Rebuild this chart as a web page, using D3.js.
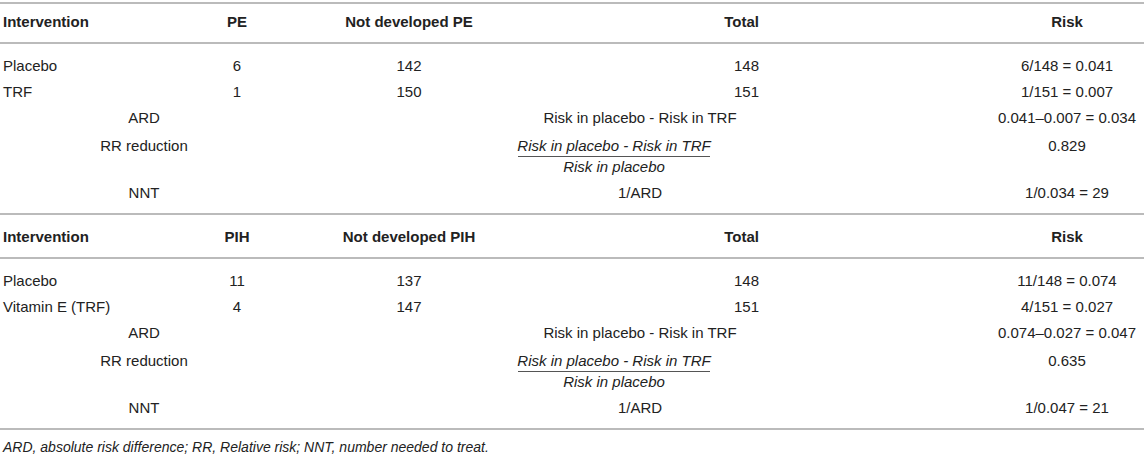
<!DOCTYPE html>
<html>
<head>
<meta charset="utf-8">
<script src="https://cdn.jsdelivr.net/npm/d3@7"></script>
<style>
  body { margin: 0; background: #fff; }
  svg { display: block; font-family: "Liberation Sans", Arial, sans-serif; }
</style>
</head>
<body>
<div id="chart"></div>
<script>
// table content
var headersPE  = ['Intervention', 'PE', 'Not developed PE', 'Total', 'Risk'];
var headersPIH = ['Intervention', 'PIH', 'Not developed PIH', 'Total', 'Risk'];

var groupsPE  = ['Placebo', 'TRF'];
var casesPE   = [6, 1];
var notPE     = [142, 150];
var totalPE   = [148, 151];
var riskPE    = ['6/148 = 0.041', '1/151 = 0.007'];
var derivedPE = ['0.041\u20130.007 = 0.034', '0.829', '1/0.034 = 29'];

var groupsPIH  = ['Placebo', 'Vitamin E (TRF)'];
var casesPIH   = [11, 4];
var notPIH     = [137, 147];
var totalPIH   = [148, 151];
var riskPIH    = ['11/148 = 0.074', '4/151 = 0.027'];
var derivedPIH = ['0.074\u20130.027 = 0.047', '0.635', '1/0.047 = 21'];

var measures  = ['ARD', 'RR reduction', 'NNT'];
var formulas  = ['Risk in placebo - Risk in TRF', null, '1/ARD'];
var fracTop   = 'Risk in placebo - Risk in TRF';
var fracBot   = 'Risk in placebo';

var footnote = 'ARD, absolute risk difference; RR, Relative risk; NNT, number needed to treat.';

var chart_width = 1144
var chart_height = 456

var svg = d3.select('#chart')
    .append('svg')
    .attr('width', chart_width)
    .attr('height', chart_height);

// column positions
var colX = d3.scaleOrdinal()
    .domain(['name', 'measure', 'cases', 'not', 'total', 'formula', 'frac', 'risk'])
    .range([3, 144, 237, 409, 759, 640, 614, 1067]);
var colAnchor = d3.scaleOrdinal()
    .domain(['name', 'measure', 'cases', 'not', 'total', 'formula', 'frac', 'risk'])
    .range(['start', 'middle', 'middle', 'middle', 'end', 'middle', 'middle', 'middle']);

// row centres inside one block (block top = 0)
var rowY = d3.scaleOrdinal()
    .domain(['header', 'rule', 'g0', 'g1', 'm0', 'm1', 'm2', 'end'])
    .range([22, 43, 66, 92, 118, 146, 193, 214]);

var blockTop = d3.scaleOrdinal().domain([0, 1]).range([0, 215]);

var ruleColor = '#bbbbbb';
var textColor = '#222';

function cell(g, col, y, txt, opts) {
    opts = opts || {};
    g.append('text')
        .attr('x', colX(col))
        .attr('y', y + 5)
        .attr('text-anchor', colAnchor(col))
        .attr('font-size', opts.size || 15)
        .attr('font-weight', opts.bold ? 'bold' : null)
        .attr('font-style', opts.italic ? 'italic' : null)
        .attr('fill', textColor)
        .text(txt);
}

function rule(y) {
    svg.append('line')
        .attr('x1', 0).attr('x2', chart_width)
        .attr('y1', y).attr('y2', y)
        .attr('stroke', ruleColor)
        .attr('stroke-width', 2);
}

var blocks = [
    { headers: headersPE, groups: groupsPE, cases: casesPE, not: notPE, total: totalPE, risk: riskPE, derived: derivedPE },
    { headers: headersPIH, groups: groupsPIH, cases: casesPIH, not: notPIH, total: totalPIH, risk: riskPIH, derived: derivedPIH }
];

rule(3);

blocks.forEach(function(b, bi) {
    var t = blockTop(bi);
    var g = svg.append('g');
    var cols = ['name', 'cases', 'not', 'total', 'risk'];

    // header
    b.headers.forEach(function(h, i) {
        cell(g, cols[i], t + rowY('header'), h, { bold: true });
    });
    rule(t + rowY('rule'));

    // group rows
    b.groups.forEach(function(name, i) {
        var y = t + rowY('g' + i);
        cell(g, 'name', y, name);
        cell(g, 'cases', y, b.cases[i]);
        cell(g, 'not', y, b.not[i]);
        cell(g, 'total', y, b.total[i]);
        cell(g, 'risk', y, b.risk[i]);
    });

    // derived measures
    measures.forEach(function(m, i) {
        var y = t + rowY('m' + i);
        cell(g, 'measure', y, m);
        if (formulas[i]) {
            cell(g, 'formula', y, formulas[i]);
        } else {
            cell(g, 'frac', y, fracTop, { italic: true });
            g.append('line')
                .attr('x1', colX('frac') - 96).attr('x2', colX('frac') + 96)
                .attr('y1', y + 10.5).attr('y2', y + 10.5)
                .attr('stroke', '#555')
                .attr('stroke-width', 1);
            cell(g, 'frac', y + 21, fracBot, { italic: true });
        }
        cell(g, 'risk', y, b.derived[i]);
    });

    rule(t + rowY('end'));
});

svg.append('text')
    .attr('x', 3)
    .attr('y', 452)
    .attr('font-size', 14)
    .attr('font-style', 'italic')
    .attr('fill', textColor)
    .text(footnote);
</script>
</body>
</html>
